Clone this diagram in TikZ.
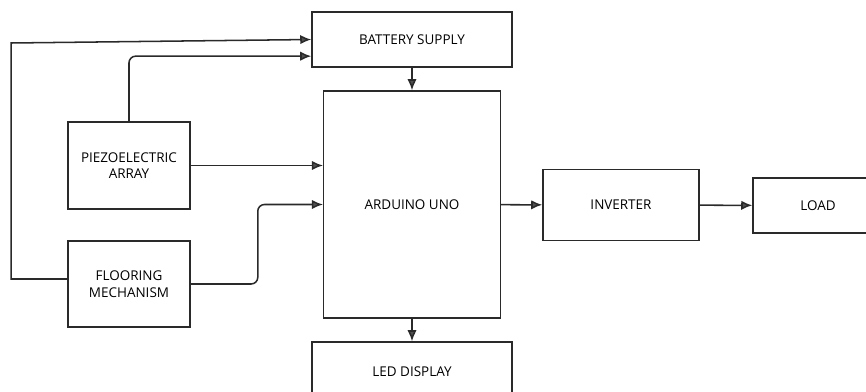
\documentclass[tikz,border=0pt]{standalone}
\usepackage{fontspec}
\setmainfont{Open Sans}
\usepackage{xcolor}
\usepackage{tikz}
\usetikzlibrary{arrows.meta}
\definecolor{edge}{HTML}{2A2A2A}
\definecolor{tipgray}{HTML}{505050}
\tikzset{
  block/.style={rectangle, draw=edge, line width=1.3pt, fill=white,
    align=center, inner sep=2pt, font=\fontsize{11.5}{14}\selectfont},
  arrowline/.style={-{Latex[length=3.3mm, width=2.8mm, fill=tipgray]}, line width=1.3pt, draw=edge},
  feedline/.style={arrowline, rounded corners=2mm}
}

\begin{document}
\begin{tikzpicture}[x=0.03cm, y=-0.03cm]
  \useasboundingbox (0,0) rectangle (866,392);
  \node[block, minimum width=6cm, minimum height=1.65cm] (battery) at (412,39.5) {BATTERY SUPPLY};
  \node[block, minimum width=5.3cm, minimum height=6.81cm] (arduino) at (412,204.5) {ARDUINO UNO};
  \node[block, minimum width=6cm, minimum height=2.1cm] (led) at (412,377) {};
  \node[font=\fontsize{11.5}{14}\selectfont] (ledtext) at (412,372) {LED DISPLAY};
  \node[block, minimum width=3.66cm, minimum height=2.61cm] (piezo) at (129,165.5) {PIEZOELECTRIC\\ARRAY};
  \node[block, minimum width=3.66cm, minimum height=2.58cm] (flooring) at (129,284) {FLOORING\\MECHANISM};
  \node[block, minimum width=4.68cm, minimum height=2.13cm] (inverter) at (621,205) {INVERTER};
  \node[block, minimum width=3.9cm, minimum height=1.65cm] (load) at (818,205.5) {LOAD};

  \draw[arrowline] (battery) -- (arduino);
  \draw[arrowline] (arduino) -- (led);
  \draw[arrowline] (arduino) -- (inverter);
  \draw[arrowline] (inverter) -- (load);
  \draw[arrowline] (piezo.east) -- (piezo.east -| arduino.west);
  \draw[feedline] (piezo.north) |- ([yshift=-5mm]battery.west);
  \draw[arrowline] ([yshift=1.5mm]flooring.west) -- ++(-56,0) -- ++(0,-236) -- (battery.west);
  \draw[feedline] (flooring.east) -- ++(67,0) |- (arduino.west);
\end{tikzpicture}
\end{document}
